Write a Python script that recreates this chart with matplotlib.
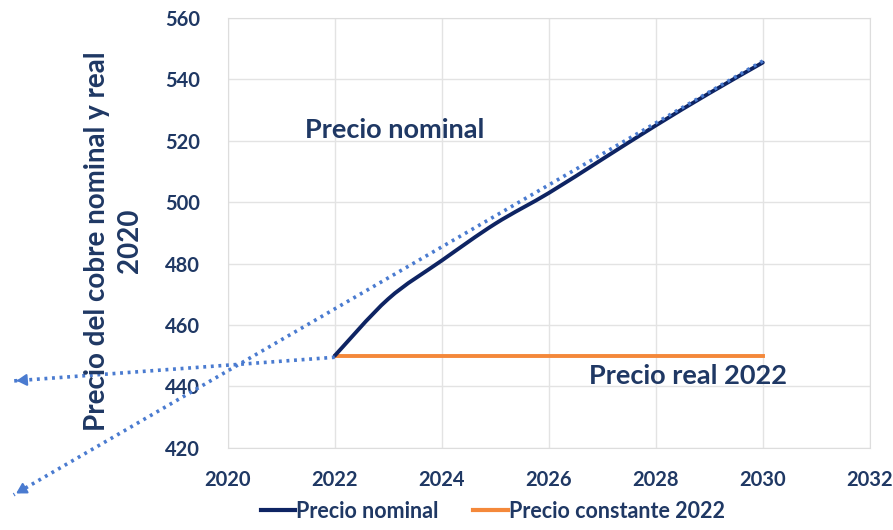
import matplotlib
matplotlib.use('Agg')
import matplotlib.pyplot as plt
from matplotlib.path import Path
from matplotlib.patches import PathPatch
from matplotlib.lines import Line2D

plt.rcParams['font.family'] = ['Lato', 'DejaVu Sans']
plt.rcParams['font.weight'] = 'bold'

# datos
years = [2022, 2023, 2024, 2025, 2026, 2027, 2028, 2029, 2030]
precio_nominal = [450, 468.5, 481, 493, 503, 514, 525, 535.5, 545.5]
precio_constante = [450, 450, 450, 450, 450, 450, 450, 450, 450]

# flechas punteadas (inicio -> punta)
flecha_real_x = [2022, 2016.0]
flecha_real_y = [449.5, 441.8]
flecha_nominal_x = [2030, 2016.0]
flecha_nominal_y = [546, 404.7]

navy = '#1F3864'
linea_nominal = '#0E2463'
naranja = '#F4883A'
azul_punteado = '#4A7BD0'


def smooth_path(xs, ys):
    """linea suavizada tipo Excel (Catmull-Rom como bezier)"""
    verts = [(xs[0], ys[0])]
    codes = [Path.MOVETO]
    n = len(xs)
    for i in range(n - 1):
        x0, y0 = (xs[i - 1], ys[i - 1]) if i > 0 else (xs[i], ys[i])
        x1, y1 = xs[i], ys[i]
        x2, y2 = xs[i + 1], ys[i + 1]
        x3, y3 = (xs[i + 2], ys[i + 2]) if i + 2 < n else (x2, y2)
        c1 = (x1 + (x2 - x0) / 6, y1 + (y2 - y0) / 6)
        c2 = (x2 - (x3 - x1) / 6, y2 - (y3 - y1) / 6)
        verts += [c1, c2, (x2, y2)]
        codes += [Path.CURVE4] * 3
    return Path(verts, codes)


fig = plt.figure(figsize=(8.93, 5.30), dpi=100)
ax = fig.add_axes([0.255, 0.155, 0.719, 0.811])

ax.add_patch(PathPatch(smooth_path(years, precio_nominal), facecolor='none',
                       edgecolor=linea_nominal, lw=2.8, capstyle='round', zorder=4))
ax.plot(years, precio_constante, color=naranja, lw=2.8, zorder=3)

for fx, fy in [(flecha_real_x, flecha_real_y), (flecha_nominal_x, flecha_nominal_y)]:
    ax.plot(fx, fy, color=azul_punteado, lw=2.6, linestyle=(0, (0.8, 1.3)),
            clip_on=False, zorder=5)
    dx, dy = fx[1] - fx[0], fy[1] - fy[0]
    ax.annotate('', xy=(fx[1], fy[1]), xytext=(fx[1] - dx * 0.02, fy[1] - dy * 0.02),
                arrowprops=dict(arrowstyle='-|>,head_length=0.6,head_width=0.35',
                                color=azul_punteado, lw=1.5),
                annotation_clip=False, zorder=5)

ax.set_xlim(2020, 2032)
ax.set_ylim(420, 560)
ax.set_xticks(range(2020, 2033, 2))
ax.set_yticks(range(420, 561, 20))
ax.grid(True, color='#E3E3E3', lw=1)
ax.set_axisbelow(True)
for s in ax.spines.values():
    s.set_color('#DDDDDD')
ax.tick_params(length=0, labelsize=14.5, labelcolor=navy)
ax.tick_params(axis='y', pad=20)
ax.tick_params(axis='x', pad=16)
for lab in ax.get_xticklabels() + ax.get_yticklabels():
    lab.set_fontweight('bold')

ax.text(2021.45, 523.5, 'Precio nominal', color=navy, fontsize=19.5, fontweight='bold',
        va='center', ha='left')
ax.text(2026.75, 443.5, 'Precio real 2022', color=navy, fontsize=19.5, fontweight='bold',
        va='center', ha='left')

fig.text(0.127, 0.545, 'Precio del cobre nominal y real\n2020', rotation=90,
         ha='center', va='center', multialignment='center', color=navy,
         fontsize=20, fontweight='bold', linespacing=1.3)

handles = [Line2D([], [], color=linea_nominal, lw=3),
           Line2D([], [], color=naranja, lw=3)]
leg = fig.legend(handles, ['Precio nominal', 'Precio constante 2022'], loc='lower center',
                 bbox_to_anchor=(0.552, -0.011), ncol=2, frameon=False, borderpad=0.15,
                 fontsize=15.5, handlelength=1.6, handletextpad=0.05, columnspacing=1.6)
for t in leg.get_texts():
    t.set_color(navy)
    t.set_fontweight('bold')

fig.savefig('out.png', dpi=100)
